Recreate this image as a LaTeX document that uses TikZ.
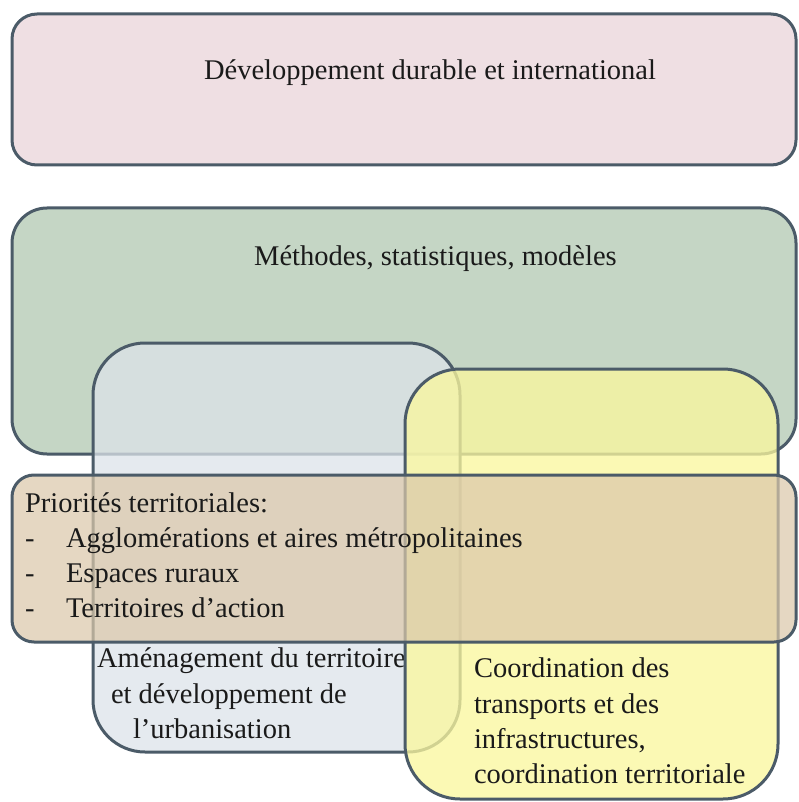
\documentclass[tikz,border=0pt]{standalone}
\usepackage{fontspec}
\setmainfont{Liberation Serif}
\definecolor{strokec}{HTML}{4B5B68}
\definecolor{pinkc}{HTML}{EFDFE3}
\definecolor{greenc}{HTML}{C5D6C5}
\definecolor{bluec}{HTML}{DCE3E9}
\definecolor{yellowc}{HTML}{FAF79E}
\definecolor{tanc}{HTML}{DBC8AA}
\definecolor{txtc}{HTML}{1A1A1A}
\begin{document}
\begin{tikzpicture}[x=1pt,y=-1pt,
  panel/.style={draw=strokec, line width=3pt, inner sep=0pt, outer sep=0pt, rectangle},
  lbl/.style={inner sep=0pt, outer sep=0pt, anchor=base west, text=txtc,
              font=\fontsize{28.5}{35.5}\selectfont},
  clbl/.style={lbl, anchor=base}]
\useasboundingbox (0,0) rectangle (798,802);
% panels
\node[panel, fill=pinkc, rounded corners=25pt, minimum width=784pt, minimum height=151pt] (pink) at (404,89.5) {};
\node[panel, fill=greenc, rounded corners=35pt, minimum width=784pt, minimum height=246pt] (green) at (404,331) {};
\node[panel, fill=bluec, fill opacity=0.75, rounded corners=52pt, minimum width=367pt, minimum height=409pt] (blue) at (276.5,547.5) {};
\node[lbl] (am1) at (97,667) {Aménagement du territoire};
\node[lbl] (am2) at (111,703) {et développement de};
\node[lbl] (am3) at (133,738) {l’urbanisation};
\node[panel, fill=yellowc, fill opacity=0.77, rounded corners=55pt, minimum width=373pt, minimum height=430pt] (yellow) at (591.5,584) {};
\node[panel, fill=tanc, fill opacity=0.72, rounded corners=22pt, minimum width=784pt, minimum height=167pt] (tan) at (404,558.5) {};
% texts
\node[clbl] (t1) at (430,80) {Développement durable et international};
\node[clbl] (t2) at (435.5,265) {Méthodes, statistiques, modèles};
\node[lbl] (p0) at (25,512) {Priorités territoriales:};
\node[lbl] (d1) at (25,547) {-};
\node[lbl] (p1) at (66,547) {Agglomérations et aires métropolitaines};
\node[lbl] (d2) at (25,582) {-};
\node[lbl] (p2) at (66,582) {Espaces ruraux};
\node[lbl] (d3) at (25,617) {-};
\node[lbl] (p3) at (66,617) {Territoires d’action};
\node[lbl] (c1) at (474,677) {Coordination des};
\node[lbl] (c2) at (474,713) {transports et des};
\node[lbl] (c3) at (474,748) {infrastructures,};
\node[lbl] (c4) at (474,783) {coordination territoriale};
\end{tikzpicture}
\end{document}
